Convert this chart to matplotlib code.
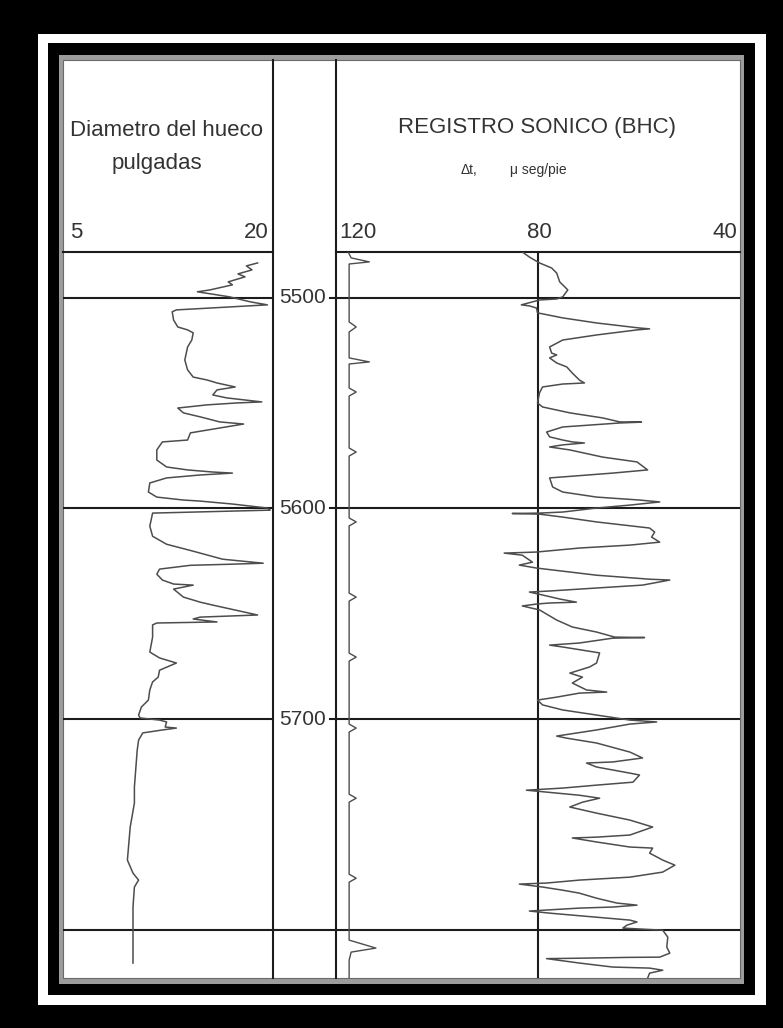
import numpy as np
import matplotlib.pyplot as plt
from matplotlib.patches import Rectangle

plt.rcParams['font.family'] = ['Liberation Sans Narrow', 'Liberation Sans', 'DejaVu Sans']

W, H = 783, 1028

# diametro del hueco: (profundidad pies, pulgadas)
calibre = [
    (5483.4, 18.9), (5484.8, 18.1), (5486.7, 18.5), (5488.6, 17.5), (5490.0, 18.0),
    (5492.4, 16.8), (5493.8, 17.1), (5496.2, 15.5), (5497.1, 14.6), (5499.5, 16.9),
    (5501.9, 18.4), (5503.3, 19.6), (5505.7, 13.1), (5506.6, 12.8), (5510.5, 12.9),
    (5513.8, 13.2), (5515.2, 13.9), (5516.6, 14.3), (5520.0, 14.2), (5523.3, 13.9),
    (5529.5, 13.7), (5534.2, 13.9), (5537.6, 14.3), (5539.0, 15.3), (5540.4, 16.0),
    (5542.3, 17.3), (5543.7, 16.0), (5546.1, 15.7), (5547.5, 16.7), (5549.4, 19.2),
    (5549.9, 17.4), (5550.8, 15.3), (5552.3, 13.2), (5554.6, 13.6), (5556.5, 14.8),
    (5558.9, 16.2), (5559.9, 17.9), (5564.1, 14.1), (5567.5, 13.9), (5568.4, 12.1),
    (5572.2, 11.7), (5577.0, 11.7), (5580.3, 12.4), (5581.7, 13.9), (5582.7, 15.7),
    (5583.2, 17.1), (5584.1, 14.8), (5585.5, 12.4), (5587.9, 11.2), (5592.2, 11.1),
    (5594.6, 11.7), (5596.0, 13.6), (5596.5, 14.8), (5597.9, 17.1), (5599.8, 19.6),
    (5600.8, 19.8), (5602.2, 11.4), (5608.4, 11.2), (5613.2, 11.4), (5617.0, 12.4),
    (5620.3, 14.3), (5624.1, 16.4), (5626.0, 19.3), (5626.5, 16.9), (5627.0, 14.1),
    (5628.8, 11.9), (5631.2, 11.7), (5634.0, 12.1), (5635.9, 12.9), (5636.4, 14.3),
    (5638.3, 12.9), (5642.1, 13.6), (5644.5, 14.8), (5645.9, 15.7), (5650.6, 18.9),
    (5651.6, 14.8), (5652.5, 14.3), (5653.9, 16.0), (5654.4, 11.7), (5655.3, 11.4),
    (5661.1, 11.4), (5668.2, 11.2), (5671.0, 11.9), (5673.4, 13.1), (5676.8, 11.9),
    (5680.1, 11.8), (5682.4, 11.4), (5686.2, 11.2), (5691.0, 11.1), (5694.3, 10.6),
    (5698.1, 10.4), (5699.5, 10.5), (5700.5, 11.9), (5701.4, 12.4), (5703.8, 12.3),
    (5704.3, 13.1), (5705.2, 12.1), (5706.6, 10.7), (5710.0, 10.4), (5714.8, 10.3),
    (5732.3, 10.1), (5739.9, 10.1), (5751.3, 9.8), (5767.0, 9.6), (5773.2, 10.0),
    (5776.5, 10.4), (5779.8, 10.1), (5789.3, 10.0), (5815.9, 10.0),
]

# registro sonico: (profundidad pies, delta t micro seg/pie)
sonico = [
    (5478.2, 83.1), (5480.6, 81.7), (5483.4, 79.7), (5485.8, 77.3), (5488.2, 76.3),
    (5492.4, 75.7), (5496.2, 74.1), (5499.5, 75.1), (5500.5, 76.3), (5501.0, 79.7),
    (5503.3, 83.3), (5503.8, 81.7), (5504.8, 80.3), (5507.1, 80.1), (5509.5, 75.1),
    (5511.9, 68.4), (5514.3, 59.9), (5514.7, 57.9), (5515.2, 60.4), (5517.6, 68.4),
    (5520.0, 75.1), (5523.3, 77.7), (5526.2, 77.3), (5527.1, 76.3), (5528.5, 77.7),
    (5530.9, 76.3), (5532.8, 74.3), (5535.7, 73.2), (5539.0, 71.8), (5540.4, 70.8),
    (5540.9, 75.1), (5542.3, 79.1), (5545.1, 79.7), (5549.9, 80.1), (5551.8, 79.1),
    (5554.6, 73.7), (5557.0, 67.2), (5558.9, 63.8), (5559.0, 59.5), (5559.4, 63.8),
    (5561.3, 75.1), (5563.7, 78.3), (5566.0, 77.7), (5567.5, 75.1), (5568.4, 73.2),
    (5568.9, 70.8), (5569.8, 75.1), (5570.8, 77.7), (5572.2, 73.7), (5575.6, 67.2),
    (5577.9, 60.4), (5581.7, 58.3), (5583.2, 65.2), (5585.0, 75.1), (5585.5, 77.7),
    (5589.8, 77.1), (5592.2, 75.1), (5594.6, 68.4), (5596.0, 59.9), (5596.9, 55.9),
    (5598.4, 61.8), (5599.8, 68.4), (5601.7, 75.1), (5602.2, 79.7), (5602.4, 85.1),
    (5602.7, 79.7), (5604.1, 75.1), (5606.4, 68.4), (5609.3, 57.9), (5611.2, 56.9),
    (5613.6, 57.5), (5616.0, 55.9), (5617.4, 61.8), (5618.8, 71.8), (5620.7, 80.3),
    (5621.2, 86.7), (5622.2, 83.1), (5625.5, 81.1), (5626.9, 83.7), (5628.3, 80.3),
    (5631.7, 68.4), (5633.6, 57.9), (5634.0, 53.9), (5636.4, 59.3), (5637.8, 68.4),
    (5639.2, 77.7), (5639.7, 81.7), (5641.1, 79.1), (5643.0, 75.7), (5644.5, 72.4),
    (5644.9, 77.7), (5645.4, 80.3), (5646.3, 83.1), (5648.2, 79.7), (5653.0, 76.3),
    (5656.3, 73.2), (5658.7, 68.4), (5661.1, 64.8), (5661.3, 58.9), (5661.6, 65.2),
    (5663.9, 71.8), (5664.9, 77.7), (5665.8, 75.1), (5668.6, 67.8), (5673.4, 68.4),
    (5675.3, 69.8), (5678.2, 73.7), (5680.1, 71.2), (5682.9, 73.2), (5686.2, 70.4),
    (5687.2, 66.4), (5687.7, 71.8), (5689.6, 76.3), (5691.0, 80.1), (5693.3, 79.1),
    (5695.7, 75.1), (5698.1, 68.4), (5700.5, 61.8), (5701.4, 56.5), (5702.4, 61.8),
    (5705.2, 68.4), (5708.1, 76.3), (5709.1, 74.3), (5711.4, 68.4), (5715.7, 61.8),
    (5718.5, 59.3), (5720.4, 65.2), (5720.9, 70.4), (5722.8, 68.4), (5725.7, 61.8),
    (5726.6, 59.9), (5730.0, 61.2), (5731.4, 68.4), (5732.8, 75.1), (5733.8, 82.3),
    (5734.7, 78.3), (5736.2, 71.8), (5737.6, 67.8), (5739.5, 71.2), (5741.8, 73.7),
    (5744.7, 68.4), (5748.0, 61.8), (5751.3, 57.3), (5755.1, 61.8), (5756.1, 68.4),
    (5756.5, 73.2), (5758.4, 68.4), (5760.8, 61.8), (5761.3, 57.3), (5763.7, 57.9),
    (5767.0, 55.3), (5769.4, 52.9), (5772.7, 55.3), (5775.1, 61.8), (5776.5, 71.8),
    (5777.9, 78.3), (5778.4, 83.7), (5779.8, 79.1), (5781.3, 75.1), (5782.7, 71.8),
    (5785.1, 68.4), (5787.4, 64.4), (5788.4, 60.4), (5789.3, 65.2), (5789.8, 71.8),
    (5790.7, 78.3), (5791.2, 81.7), (5792.2, 77.7), (5794.1, 68.4), (5795.5, 61.8),
    (5796.4, 60.4), (5797.9, 62.4), (5799.3, 63.2), (5800.3, 55.3), (5803.6, 54.3),
    (5808.3, 54.5), (5811.2, 53.9), (5813.1, 55.9), (5813.2, 61.8), (5813.6, 71.8),
    (5813.8, 78.3), (5815.9, 71.8), (5817.8, 65.2), (5818.3, 57.9), (5819.3, 55.3),
    (5820.7, 57.9), (5823.1, 58.3),
]

# marcas del integrador de tiempo de transito (borde izquierdo de la pista sonica)
integrador = [
    (5477.2, 117.8), (5481.0, 117.0), (5482.9, 113.4), (5483.9, 117.4), (5486.7, 117.4),
    (5511.4, 117.4), (5513.8, 116.0), (5516.2, 117.4), (5528.5, 117.4), (5530.4, 113.4),
    (5531.4, 117.4), (5542.8, 117.4), (5544.7, 116.0), (5546.6, 117.4), (5571.3, 117.4),
    (5573.2, 116.0), (5575.1, 117.4), (5604.5, 117.4), (5606.4, 116.0), (5608.3, 117.4),
    (5640.2, 117.4), (5642.1, 116.0), (5644.0, 117.4), (5668.7, 117.4), (5670.6, 116.0),
    (5672.5, 117.4), (5702.4, 117.4), (5704.3, 116.0), (5706.2, 117.4), (5735.7, 117.4),
    (5737.6, 116.0), (5739.5, 117.4), (5773.7, 117.4), (5775.6, 116.0), (5777.5, 117.4),
    (5805.0, 117.4), (5808.8, 112.1), (5810.7, 117.0), (5814.5, 117.4), (5823.0, 117.4),
]

prof_lineas = [5500, 5600, 5700, 5800]
prof_etiquetas = [5500, 5600, 5700]
prof_tope, prof_base = 5478.2, 5823.0
escala_cal = (5, 20)
escala_son = (120, 40)
linea_son = 80

ink = '#1c1c1c'
txt = '#333333'
curve = '#4d4d4d'

fig = plt.figure(figsize=(W / 100, H / 100), dpi=100, facecolor='black')

# marco de fondo en pixeles
bg = fig.add_axes([0, 0, 1, 1])
bg.set_xlim(0, W)
bg.set_ylim(H, 0)
bg.axis('off')
for x0, y0, x1, y1, c in [(38, 34, 766, 1005, 'white'),
                          (48, 43, 755, 995, 'black'),
                          (59, 55, 744, 984, '#9c9c9c'),
                          (63, 60, 740, 978, 'white')]:
    bg.add_patch(Rectangle((x0, y0), x1 - x0, y1 - y0, facecolor=c, lw=0))
bg.add_patch(Rectangle((63, 60), 677, 918, facecolor='none', edgecolor='#6a6a6a', lw=0.8))

# divisiones de pistas
bg.plot([273, 273], [60, 978], color=ink, lw=1.5)
bg.plot([336, 336], [60, 978], color=ink, lw=1.5)
bg.plot([63, 273], [252, 252], color=ink, lw=1.5)
bg.plot([336, 740], [252, 252], color=ink, lw=1.5)

# encabezados
bg.text(167, 131, 'Diametro del hueco', ha='center', va='center', fontsize=16, color=txt)
bg.text(157, 164, 'pulgadas', ha='center', va='center', fontsize=16, color=txt)
bg.text(70, 233, str(escala_cal[0]), ha='left', va='center', fontsize=16, color=txt)
bg.text(269, 233, str(escala_cal[1]), ha='right', va='center', fontsize=16, color=txt)
bg.text(537, 128, 'REGISTRO SONICO (BHC)', ha='center', va='center', fontsize=16, color=txt)
bg.text(469, 170, 'Δt,', ha='center', va='center', fontsize=10, color=txt)
bg.text(538, 170, 'μ seg/pie', ha='center', va='center', fontsize=10, color=txt)
bg.text(339, 233, str(escala_son[0]), ha='left', va='center', fontsize=16, color=txt)
bg.text(539, 233, str(linea_son), ha='center', va='center', fontsize=16, color=txt)
bg.text(737, 233, str(escala_son[1]), ha='right', va='center', fontsize=16, color=txt)


def pista(x0, x1, y0=252, y1=978):
    ax = fig.add_axes([x0 / W, 1 - y1 / H, (x1 - x0) / W, (y1 - y0) / H])
    ax.set_ylim(prof_base, prof_tope)
    ax.axis('off')
    return ax


ax1 = pista(63, 273)
ax1.set_xlim(*escala_cal)
axd = pista(273, 336)
axd.set_xlim(0, 1)
ax2 = pista(336, 740)
ax2.set_xlim(*escala_son)

for d in prof_lineas:
    ax1.axhline(d, color=ink, lw=1.5)
    ax2.axhline(d, color=ink, lw=1.5)
axd.axhline(prof_lineas[-1], color=ink, lw=1.5)
for d in prof_etiquetas:
    axd.axhline(d, xmin=0.9, xmax=1.0, color=ink, lw=1.5)
    axd.text(0.47, d, str(d), transform=axd.get_yaxis_transform(),
             ha='center', va='center', fontsize=15, color=txt)
ax2.axvline(linea_son, color=ink, lw=1.5)

cal = np.array(calibre)
son = np.array(sonico)
tti = np.array(integrador)
ax1.plot(cal[:, 1], cal[:, 0], color=curve, lw=1.1, zorder=3)
ax2.plot(son[:, 1], son[:, 0], color=curve, lw=1.1, zorder=3)
ax2.plot(tti[:, 1], tti[:, 0], color=curve, lw=1.0, zorder=3)

fig.savefig('out.png', dpi=100, facecolor='black')
